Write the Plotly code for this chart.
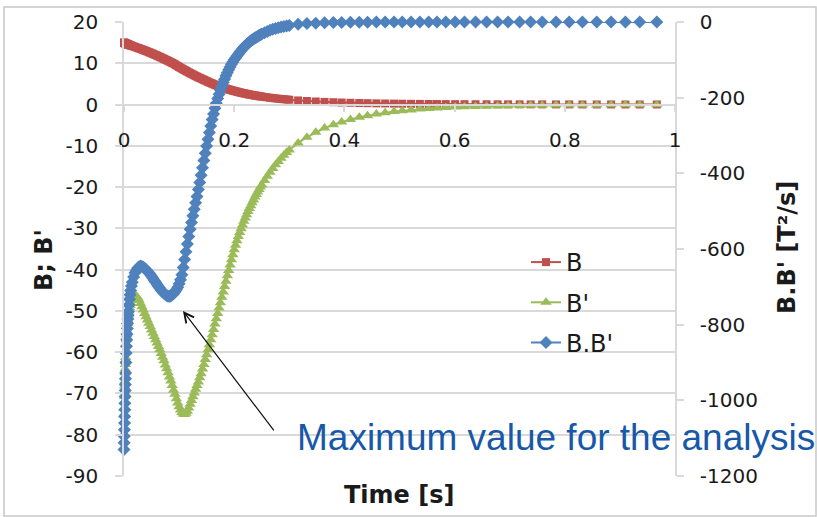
import plotly.graph_objects as go

# ---------------- data ----------------
time_s = [0, 0.00025, 0.0005, 0.00075, 0.001, 0.00125, 0.0015, 0.00175, 0.002, 0.00225,
          0.0025, 0.00275, 0.003, 0.0035, 0.004, 0.0045, 0.005, 0.0055, 0.006, 0.0065,
          0.007, 0.0075, 0.008, 0.009, 0.010, 0.011, 0.012, 0.0135, 0.015, 0.0175,
          0.02, 0.0225, 0.025, 0.0275, 0.03, 0.0325, 0.035, 0.0375, 0.04, 0.0425,
          0.045, 0.0475, 0.05, 0.0525, 0.055, 0.0575, 0.06, 0.0625, 0.065, 0.0675,
          0.07, 0.0725, 0.075, 0.0775, 0.08, 0.0825, 0.085, 0.0875, 0.09, 0.0925,
          0.095, 0.0975, 0.1, 0.1025, 0.105, 0.1075, 0.11, 0.1125, 0.115, 0.1175,
          0.12, 0.1225, 0.125, 0.1275, 0.13, 0.1325, 0.135, 0.1375, 0.14, 0.1425,
          0.145, 0.1475, 0.15, 0.1525, 0.155, 0.1575, 0.16, 0.1625, 0.165, 0.1675,
          0.17, 0.1725, 0.175, 0.1775, 0.18, 0.1825, 0.185, 0.1875, 0.19, 0.1925,
          0.195, 0.1975, 0.2, 0.2025, 0.205, 0.2075, 0.21, 0.2125, 0.215, 0.2175,
          0.22, 0.2225, 0.225, 0.2275, 0.23, 0.2325, 0.235, 0.2375, 0.24, 0.2425,
          0.245, 0.2475, 0.25,
          0.255, 0.26, 0.265, 0.27, 0.275, 0.28, 0.285, 0.29, 0.295,
          0.300, 0.316, 0.332, 0.348, 0.364, 0.380, 0.395, 0.411, 0.427, 0.442,
          0.458, 0.474, 0.490, 0.505, 0.521, 0.537, 0.553, 0.568,
          0.584, 0.601, 0.618, 0.638, 0.658, 0.678, 0.697, 0.718, 0.738, 0.759,
          0.784, 0.808, 0.832, 0.858, 0.884, 0.910, 0.936, 0.967]

b_vals = [15.0, 14.98, 14.97, 14.95, 14.93, 14.92, 14.9, 14.88, 14.87, 14.85,
          14.83, 14.82, 14.8, 14.77, 14.74, 14.71, 14.68, 14.65, 14.63, 14.6,
          14.58, 14.55, 14.53, 14.48, 14.43, 14.38, 14.33, 14.26, 14.19, 14.08,
          13.96, 13.84, 13.72, 13.60, 13.48, 13.36, 13.23, 13.10, 12.97, 12.84,
          12.70, 12.57, 12.43, 12.29, 12.14, 12.00, 11.85, 11.70, 11.55, 11.40,
          11.24, 11.08, 10.92, 10.76, 10.60, 10.43, 10.26, 10.09, 9.92, 9.72,
          9.52, 9.31, 9.10, 8.91, 8.72, 8.53, 8.35, 8.16, 7.98, 7.80,
          7.62, 7.44, 7.27, 7.10, 6.93, 6.76, 6.60, 6.45, 6.30, 6.14,
          5.98, 5.82, 5.67, 5.52, 5.37, 5.22, 5.08, 4.94, 4.80, 4.67,
          4.54, 4.42, 4.30, 4.18, 4.07, 3.96, 3.86, 3.76, 3.66, 3.56,
          3.47, 3.38, 3.30, 3.21, 3.12, 3.03, 2.95, 2.87, 2.80, 2.72,
          2.65, 2.58, 2.51, 2.44, 2.38, 2.32, 2.26, 2.20, 2.14, 2.09,
          2.03, 1.98, 1.93,
          1.83, 1.74, 1.65, 1.57, 1.49, 1.42, 1.35, 1.29, 1.23,
          1.17, 1.0, 0.86, 0.74, 0.64, 0.56, 0.49, 0.43, 0.38, 0.33,
          0.29, 0.26, 0.23, 0.2, 0.18, 0.16, 0.14, 0.12,
          0.11, 0.1, 0.09, 0.08, 0.07, 0.06, 0.05, 0.05, 0.04, 0.04,
          0.03, 0.03, 0.02, 0.02, 0.02, 0.01, 0.01, 0.01]

db_vals = [-75, -73.5, -72, -70.7, -69.5, -68.2, -67, -66, -65, -64,
           -63, -62.1, -61.3, -59.7, -58.2, -57, -55.8, -54.8, -53.8, -53,
           -52.2, -51.6, -51, -50, -49.2, -48.6, -48, -47.5, -47.0, -46.6,
           -46.3, -46.4, -46.8, -47.4, -48.2, -49.0, -49.8, -50.6, -51.4, -52.2,
           -53.0, -53.8, -54.6, -55.4, -56.2, -57.0, -57.8, -58.6, -59.4, -60.3,
           -61.2, -62.1, -63.1, -64.0, -65.0, -66.0, -67.0, -68.1, -69.2, -70.2,
           -71.3, -72.3, -73.2, -74.0, -74.6, -75.0, -75.1, -74.8, -74.3, -73.5,
           -72.6, -71.7, -70.8, -69.9, -69.0, -68.1, -67.2, -66.2, -65.2, -64.1,
           -63.0, -61.8, -60.6, -59.4, -58.2, -57.0, -55.8, -54.5, -53.2, -51.9,
           -50.6, -49.3, -48.0, -46.7, -45.4, -44.1, -42.8, -41.5, -40.2, -38.9,
           -37.6, -36.4, -35.2, -34.1, -33.0, -32.0, -31.0, -30.1, -29.2, -28.3,
           -27.5, -26.7, -25.9, -25.2, -24.5, -23.8, -23.1, -22.4, -21.8, -21.2,
           -20.6, -20.0, -19.5,
           -18.4, -17.4, -16.4, -15.5, -14.6, -13.8, -13.0, -12.3, -11.6,
           -11, -9.3, -7.9, -6.7, -5.7, -4.9, -4.2, -3.6, -3.1, -2.7,
           -2.3, -2.0, -1.7, -1.5, -1.3, -1.1, -0.95, -0.82,
           -0.72, -0.62, -0.54, -0.46, -0.39, -0.33, -0.28, -0.24, -0.2, -0.17,
           -0.14, -0.12, -0.1, -0.08, -0.07, -0.06, -0.05, -0.04]

bdb_vals = [-1130, -1112, -1095, -1078, -1060, -1043, -1025, -1008, -990, -974,
            -958, -943, -928, -900, -875, -857, -840, -825, -810, -797,
            -785, -775, -765, -748, -733, -721, -710, -698, -688, -674,
            -663, -656, -650, -647, -645, -646, -648, -651, -655, -659,
            -663, -667, -672, -677, -683, -688, -694, -699, -704, -709,
            -713, -717, -720, -723, -725, -725, -724, -721, -718, -713,
            -708, -701, -692, -681, -668, -649, -628, -607, -587, -567,
            -548, -530, -512, -495, -478, -461, -443, -424, -405, -385,
            -366, -347, -328, -310, -292, -275, -258, -243, -228, -215,
            -202, -191, -180, -170, -160, -151, -142, -134, -126, -119,
            -112, -106, -100, -95, -90, -85, -80, -76, -71, -67,
            -63, -60, -56, -53, -50, -47, -45, -42, -40, -38,
            -36, -34, -32,
            -28.5, -25, -22, -19, -17, -15, -13.5, -12, -10.5,
            -9, -6, -4, -3, -2, -1.5, -1.1, -0.8, -0.6, -0.4,
            -0.3, -0.2, -0.15, -0.1, -0.08, -0.06, -0.05, -0.04,
            -0.03, -0.03, -0.02, -0.02, -0.02, -0.01, -0.01, -0.01, -0.01, -0.01,
            -0.01, 0, 0, 0, 0, 0, 0, 0]

assert len(time_s) == len(b_vals) == len(db_vals) == len(bdb_vals), (
    len(time_s), len(b_vals), len(db_vals), len(bdb_vals))

series_names = ["B", "B'", "B.B'"]

left_tickvals = [20, 10, 0, -10, -20, -30, -40, -50, -60, -70, -80, -90]
left_ticktext = ["20", "10", "0", "-10", "-20", "-30", "-40", "-50", "-60", "-70", "-80", "-90"]
right_tickvals = [0, -200, -400, -600, -800, -1000, -1200]
right_ticktext = ["0", "-200", "-400", "-600", "-800", "-1000", "-1200"]
x_tickvals = [0, 0.2, 0.4, 0.6, 0.8, 1]
x_ticktext = ["0", "0.2", "0.4", "0.6", "0.8", "1"]

# ---------------- layout helpers ----------------
W, H = 817, 517
ML, MR, MT, MB = 124, 142, 22, 41
PW, PH = W - ML - MR, H - MT - MB


def px(x):
    return (x - ML) / PW


def py(y):
    return (H - MB - y) / PH


RED, GREEN, BLUE = "#C0504D", "#9BBB59", "#4F81BD"
GRID = "#D9D9D9"
TXT = "#1a1a1a"
FONT = "DejaVu Sans"

fig = go.Figure()
fig.add_trace(go.Scatter(x=time_s, y=b_vals, name=series_names[0], mode="lines+markers",
                         line=dict(color=RED, width=2),
                         marker=dict(symbol="square", size=8, color=RED),
                         cliponaxis=False, legendgroup="a"))
fig.add_trace(go.Scatter(x=time_s, y=db_vals, name=series_names[1], mode="lines+markers",
                         line=dict(color=GREEN, width=2),
                         marker=dict(symbol="triangle-up", size=10, color=GREEN),
                         cliponaxis=False, legendgroup="b"))
fig.add_trace(go.Scatter(x=time_s, y=bdb_vals, name=series_names[2], mode="lines+markers",
                         line=dict(color=BLUE, width=2),
                         marker=dict(symbol="diamond", size=10, color=BLUE),
                         cliponaxis=False, yaxis="y2", legendgroup="c"))

fig.update_layout(
    width=W, height=H,
    margin=dict(l=ML, r=MR, t=MT, b=MB, autoexpand=False),
    paper_bgcolor="white", plot_bgcolor="white",
    font=dict(family=FONT, color=TXT),
    xaxis=dict(range=[0, 1], anchor="free", position=py(105),
               tickvals=x_tickvals, ticktext=x_ticktext,
               showgrid=False, zeroline=False,
               showline=True, linecolor=GRID, linewidth=1.5,
               ticks="outside", ticklen=6, tickcolor=GRID, tickwidth=1.5,
               ticklabelstandoff=11,
               tickfont=dict(family=FONT, size=20, color=TXT)),
    yaxis=dict(range=[-90, 20], tickvals=left_tickvals, ticktext=left_ticktext,
               showgrid=True, gridcolor=GRID, gridwidth=1.5, zeroline=False,
               showline=True, linecolor=GRID, linewidth=1.5,
               ticks="outside", ticklen=7, tickcolor=GRID, tickwidth=1.5,
               ticklabelstandoff=13,
               tickfont=dict(family=FONT, size=20, color=TXT)),
    yaxis2=dict(range=[-1200, 0], overlaying="y", side="right",
                tickvals=right_tickvals, ticktext=right_ticktext,
                showgrid=False, zeroline=False,
                showline=True, linecolor=GRID, linewidth=1.5,
                ticks="outside", ticklen=7, tickcolor=GRID, tickwidth=1.5,
                ticklabelstandoff=12,
                tickfont=dict(family=FONT, size=20, color=TXT)),
    legend=dict(x=px(526), y=py(240), xanchor="left", yanchor="top",
                bgcolor="rgba(0,0,0,0)", font=dict(family=FONT, size=24, color=TXT),
                tracegroupgap=6, itemwidth=30),
    showlegend=True,
)

fig.add_annotation(xref="paper", yref="paper", x=px(44), y=py(260), text="<b>B; B'</b>",
                   xanchor="center", yanchor="middle",
                   textangle=-90, showarrow=False, font=dict(family=FONT, size=24, color=TXT))
fig.add_annotation(xref="paper", yref="paper", x=px(787), y=py(248), text="<b>B.B' [T²/s]</b>",
                   xanchor="center", yanchor="middle",
                   textangle=-90, showarrow=False, font=dict(family=FONT, size=24, color=TXT))
fig.add_annotation(xref="paper", yref="paper", x=px(399), y=py(495), text="<b>Time [s]</b>",
                   xanchor="center", yanchor="middle",
                   showarrow=False, font=dict(family=FONT, size=24, color=TXT))

# arrow and blue note
fig.add_annotation(xref="x", yref="y", x=0.107, y=-50, text="", showarrow=True,
                   ax=92, ay=121, arrowhead=5, arrowsize=1.6, arrowwidth=1.2, arrowcolor="#111111")
fig.add_annotation(xref="paper", yref="paper", x=px(295), y=py(437), xanchor="left", yanchor="middle",
                   text="Maximum value for the analysis", showarrow=False,
                   font=dict(family="Liberation Sans", size=37, color="#1858A8"))

# outer frame
fig.add_shape(type="rect", xref="paper", yref="paper", x0=px(4), x1=px(816), y0=py(516), y1=py(7),
              line=dict(color="#C8C8C8", width=1.5), fillcolor="rgba(0,0,0,0)", layer="below")

fig.write_html("out.html")
